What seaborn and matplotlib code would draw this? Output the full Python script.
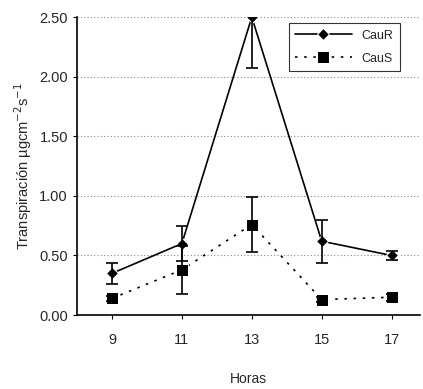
import matplotlib
matplotlib.use("Agg")
import matplotlib.pyplot as plt
import seaborn as sns
import pandas as pd
import numpy as np

hours = [9, 11, 13, 15, 17]
caur = [0.35, 0.60, 2.50, 0.62, 0.50]
caur_err = [0.09, 0.15, 0.43, 0.18, 0.04]
caus = [0.14, 0.38, 0.76, 0.13, 0.15]
caus_err = [0.02, 0.20, 0.23, 0.02, 0.03]
yticks = [0.0, 0.5, 1.0, 1.5, 2.0, 2.5]

sns.set_style("white")
plt.rcParams['font.family'] = ['Liberation Sans', 'DejaVu Sans']

fig = plt.figure(figsize=(4.23, 3.89), dpi=100)
ax = fig.add_axes([0.182, 0.19, 0.81, 0.766])

df = pd.DataFrame({"Horas": hours * 2,
                   "val": caur + caus,
                   "serie": ["CauR"] * 5 + ["CauS"] * 5})

sns.lineplot(data=df, x="Horas", y="val", hue="serie", style="serie",
             palette={"CauR": "black", "CauS": "black"},
             dashes={"CauR": "", "CauS": (1.5, 4)},
             markers={"CauR": "D", "CauS": "s"},
             markersize=8, linewidth=1.2, ax=ax, legend=True)
for s in ax.lines:
    if s.get_marker() == "D":
        s.set_markersize(6.5)

ax.errorbar(hours, caur, yerr=caur_err, fmt="none", ecolor="black",
            elinewidth=1.2, capsize=4, capthick=1.2)
ax.errorbar(hours, caus, yerr=caus_err, fmt="none", ecolor="black",
            elinewidth=1.2, capsize=4, capthick=1.2)

ax.set_xlim(8, 17.8)
ax.set_ylim(0, 2.5)
ax.set_xticks(hours)
ax.set_yticks(yticks)
ax.set_yticklabels([f"{v:.2f}" for v in yticks])
for yv in yticks[1:]:
    ax.axhline(yv, color="#888888", linestyle=(0, (1, 2)), linewidth=0.8, zorder=0)

for side in ["top", "right"]:
    ax.spines[side].set_visible(False)
for side in ["left", "bottom"]:
    ax.spines[side].set_color("black")
    ax.spines[side].set_linewidth(1.2)

ax.tick_params(axis="both", labelsize=10.5, length=3, color="black", direction="out",
               left=True, bottom=True)
ax.tick_params(axis="x", pad=10)
ax.set_xlabel("Horas", fontsize=10, labelpad=18)
ax.set_ylabel("Transpiración µgcm$^{-2}$s$^{-1}$", fontsize=10.5)

leg = ax.legend(loc="upper right", bbox_to_anchor=(0.96, 1.0), frameon=True,
                fontsize=9, handlelength=4.5, borderpad=0.5, labelspacing=0.9,
                fancybox=False)
leg.get_frame().set_edgecolor("black")
leg.get_frame().set_linewidth(0.8)
leg.set_title(None)

fig.savefig("out.png", dpi=100)
